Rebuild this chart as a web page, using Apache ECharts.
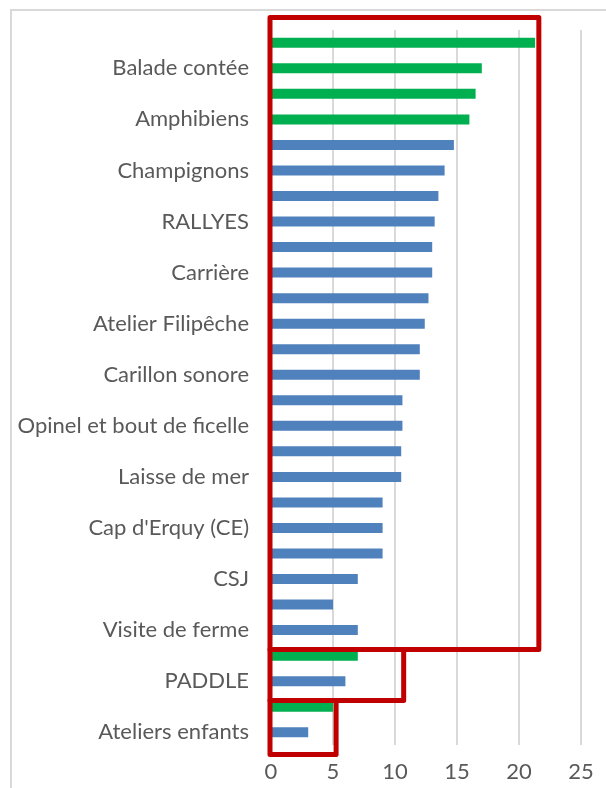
<!DOCTYPE html>
<html>
<head>
<meta charset="utf-8">
<title>Animations</title>
<script src="https://cdn.jsdelivr.net/npm/echarts@6/dist/echarts.min.js"></script>
<style>
  html, body { margin: 0; padding: 0; background: #fff; }
  #chart { width: 606px; height: 788px; }
</style>
</head>
<body>
<div id="chart"></div>
<script>
// categories, bottom to top (only every other one carries a visible label)
var categories = [
    'Ateliers enfants', '', 'PADDLE', '', 'Visite de ferme', '', 'CSJ', '',
    "Cap d'Erquy (CE)", '', 'Laisse de mer', '', 'Opinel et bout de ficelle', '',
    'Carillon sonore', '', 'Atelier Filipêche', '', 'Carrière', '', 'RALLYES', '',
    'Champignons', '', 'Amphibiens', '', 'Balade contée', ''
];
// blue bars (null where the bar is green)
var blueValues = [
    3, null, 6, null, 7, 5, 7, 9, 9, 9, 10.5, 10.5, 10.6, 10.6,
    12, 12, 12.4, 12.7, 13, 13, 13.2, 13.5, 14, 14.75, null, null, null, null
];
// green bars
var greenValues = [
    null, 5, null, 7, null, null, null, null, null, null, null, null, null, null,
    null, null, null, null, null, null, null, null, null, null, 16, 16.5, 17, 21.3
];
var xTicks = [0, 5, 10, 15, 20, 25];

// red boxes: [x right, top edge, bottom edge], edges in category-index units
var boxes = [
    [21.6, 27.99, 3.24],
    [10.7, 3.24, 1.24],
    [5.25, 1.24, -0.87]
];

var chart = echarts.init(document.getElementById('chart'));
var font = 'Lato, "Open Sans", sans-serif';

chart.setOption({
    animation: false,
    grid: { left: 271, right: 25, top: 30, bottom: 43 },
    xAxis: {
        type: 'value',
        min: xTicks[0],
        max: xTicks[xTicks.length - 1],
        interval: 5,
        axisLine: { show: false },
        axisTick: { show: false },
        axisLabel: { color: '#595959', fontSize: 22, fontFamily: font, margin: 16 },
        splitLine: { lineStyle: { color: '#d9d9d9', width: 2 } }
    },
    yAxis: {
        type: 'category',
        data: categories,
        axisLine: { lineStyle: { color: '#d9d9d9' } },
        axisTick: { show: false },
        axisLabel: { interval: 0, color: '#595959', fontSize: 22, fontFamily: font, margin: 22 }
    },
    series: [
        {
            name: 'bleu',
            type: 'bar',
            data: blueValues,
            barWidth: 10,
            barGap: '-100%',
            itemStyle: { color: '#4f81bd' }
        },
        {
            name: 'vert',
            type: 'bar',
            data: greenValues,
            barWidth: 10,
            barGap: '-100%',
            itemStyle: { color: '#00b050' }
        }
    ]
});

// red annotation boxes placed through the axes
var p0 = chart.convertToPixel({ gridIndex: 0 }, [0, 0]);
var p1 = chart.convertToPixel({ gridIndex: 0 }, [0, 1]);
var band = p0[1] - p1[1];
var els = [];
// outer chart frame
els.push({
    type: 'rect',
    shape: { x: 11, y: 10, width: 800, height: 900 },
    style: { fill: 'none', stroke: '#d9d9d9', lineWidth: 2 },
    silent: true
});
boxes.forEach(function (b) {
    var left = p0[0] - 1;
    var right = chart.convertToPixel({ gridIndex: 0 }, [b[0], 0])[0];
    var top = p0[1] - b[1] * band;
    var bottom = p0[1] - b[2] * band;
    els.push({
        type: 'rect',
        shape: { x: left, y: top, width: right - left, height: bottom - top },
        style: { fill: 'none', stroke: '#c00000', lineWidth: 5, lineJoin: 'round' },
        z: 100,
        silent: true
    });
});
chart.setOption({ graphic: els });
</script>
</body>
</html>
